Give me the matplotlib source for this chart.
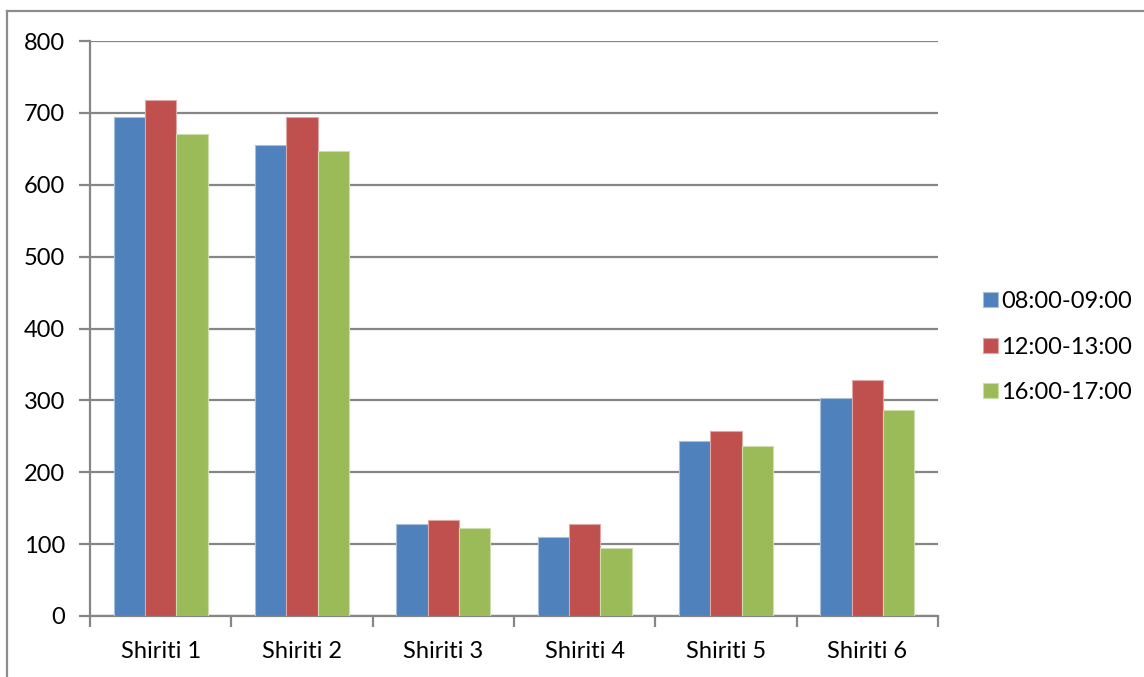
import matplotlib
matplotlib.use("Agg")
import matplotlib.pyplot as plt
import numpy as np
from matplotlib.lines import Line2D

categories = ["Shiriti 1", "Shiriti 2", "Shiriti 3", "Shiriti 4", "Shiriti 5", "Shiriti 6"]
series_names = ["08:00-09:00", "12:00-13:00", "16:00-17:00"]
morning = [694, 655, 128, 110, 244, 304]
noon = [718, 694, 133, 128, 257, 328]
afternoon = [671, 647, 122, 94, 237, 287]
y_ticks = [0, 100, 200, 300, 400, 500, 600, 700, 800]

colors = ["#4F81BD", "#C0504D", "#9BBB59"]
edges = ["#A7C0DE", "#DFA7A6", "#CDDDAC"]

plt.rcParams["font.family"] = ["Lato", "DejaVu Sans"]
plt.rcParams["font.size"] = 17

W, H = 1144, 677
fig = plt.figure(figsize=(W / 100, H / 100), dpi=100)

# chart frame
fig.add_artist(Line2D([7 / W, 7 / W], [-0.01, 1 - 10.5 / H], transform=fig.transFigure,
                      color="#8C8C8C", lw=1.6))
fig.add_artist(Line2D([7 / W, 1.01], [1 - 10.5 / H, 1 - 10.5 / H], transform=fig.transFigure,
                      color="#8C8C8C", lw=1.6))

ax = fig.add_axes([90 / W, (H - 616) / H, 848 / W, 575 / H])

n = len(categories)
x = np.arange(n)
group_gap = 1.5
bw = 1.0 / (3 + group_gap)
for i, (vals, c, ec, name) in enumerate(zip([morning, noon, afternoon], colors, edges, series_names)):
    offs = (i - 1) * bw
    ax.bar(x + 0.5 + offs, vals, width=bw, color=c, edgecolor=ec, linewidth=0.8,
           label=name, zorder=3)

ax.set_xlim(0, n)
ax.set_ylim(0, 800)
ax.set_yticks(y_ticks)
ax.yaxis.grid(True, color="#868686", lw=1.6, zorder=0)
ax.set_axisbelow(True)

ax.set_xticks(np.arange(n + 1))
ax.set_xticklabels([])
ax.set_xticks(x + 0.5, minor=True)
ax.set_xticklabels(categories, minor=True)
ax.tick_params(axis="x", which="minor", length=0, pad=18)
ax.tick_params(axis="x", which="major", length=8, width=1.6, color="#868686")
ax.tick_params(axis="y", length=8, width=1.6, color="#868686", pad=10)

for s in ["top", "right"]:
    ax.spines[s].set_visible(False)
for s in ["left", "bottom"]:
    ax.spines[s].set_color("#868686")
    ax.spines[s].set_linewidth(1.6)

handles, labels = ax.get_legend_handles_labels()
leg = fig.legend(handles, labels, loc="center left", bbox_to_anchor=(974 / W, (H - 347) / H),
                 frameon=False, handlelength=0.6, handleheight=0.6, handletextpad=0.15,
                 labelspacing=1.05, borderaxespad=0)

fig.savefig("out.png", dpi=100)
